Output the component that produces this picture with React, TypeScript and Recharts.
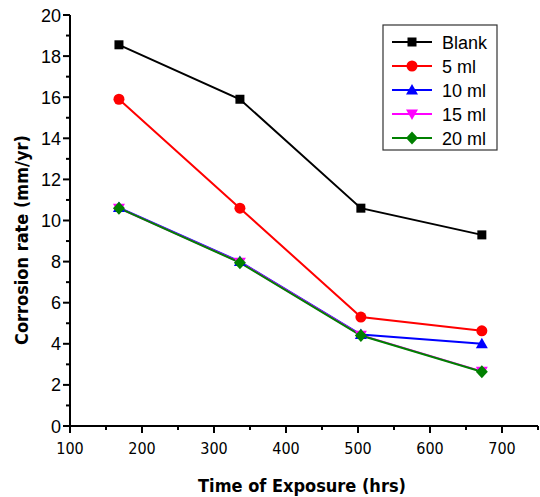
import React from 'react';
import { LineChart, Line, XAxis, YAxis } from 'recharts';

const hours = [168, 336, 504, 672];
const blank = [18.55, 15.9, 10.6, 9.3];
const ml5 = [15.9, 10.6, 5.3, 4.63];
const ml10 = [10.63, 8.0, 4.45, 4.0];
const ml15 = [10.6, 7.97, 4.42, 2.66];
const ml20 = [10.6, 7.95, 4.4, 2.64];

const xTicks = [100, 150, 200, 250, 300, 350, 400, 450, 500, 550, 600, 650, 700, 750];
const yTicks = [0, 1, 2, 3, 4, 5, 6, 7, 8, 9, 10, 11, 12, 13, 14, 15, 16, 17, 18, 19, 20];

const data = hours.map((h, i) => ({
  t: h,
  blank: blank[i],
  ml5: ml5[i],
  ml10: ml10[i],
  ml15: ml15[i],
  ml20: ml20[i],
}));

type Shape = 'square' | 'circle' | 'up' | 'down' | 'diamond';

const series: { key: string; name: string; color: string; shape: Shape }[] = [
  { key: 'blank', name: 'Blank', color: '#000000', shape: 'square' },
  { key: 'ml5', name: '5 ml', color: '#ff0000', shape: 'circle' },
  { key: 'ml10', name: '10 ml', color: '#0000ff', shape: 'up' },
  { key: 'ml15', name: '15 ml', color: '#ff00ff', shape: 'down' },
  { key: 'ml20', name: '20 ml', color: '#008000', shape: 'diamond' },
];

function Marker({ cx, cy, shape, color }: { cx: number; cy: number; shape: Shape; color: string }) {
  if (cx == null || cy == null) return <g />;
  switch (shape) {
    case 'square':
      return <rect x={cx - 4.5} y={cy - 4.5} width={9} height={9} fill={color} />;
    case 'circle':
      return <circle cx={cx} cy={cy} r={5.5} fill={color} />;
    case 'up':
      return <polygon points={`${cx},${cy - 6} ${cx - 6},${cy + 4.5} ${cx + 6},${cy + 4.5}`} fill={color} />;
    case 'down':
      return <polygon points={`${cx},${cy + 6} ${cx - 6},${cy - 4.5} ${cx + 6},${cy - 4.5}`} fill={color} />;
    case 'diamond':
      return <polygon points={`${cx},${cy - 6.5} ${cx + 6},${cy} ${cx},${cy + 6.5} ${cx - 6},${cy}`} fill={color} />;
  }
  return <g />;
}

const tickFont = "'DejaVu Sans Condensed', 'DejaVu Sans', sans-serif";
const yTickFont = "'Liberation Sans', Arial, sans-serif";
const titleFont = "'DejaVu Sans Condensed', 'DejaVu Sans', sans-serif";

const BottomTick = (props: any) => {
  const { x, y, payload } = props;
  const v = payload.value;
  const major = v % 100 === 0;
  return (
    <g>
      <line x1={x} x2={x} y1={y} y2={y + (major ? 7 : 4)} stroke="#000" strokeWidth={2} />
      {major && v <= 700 && (
        <text x={x} y={y + 28} textAnchor="middle" fontSize={16} fontFamily={tickFont} fill="#000">
          {v}
        </text>
      )}
    </g>
  );
};

const TopTick = (props: any) => {
  const { x, y, payload } = props;
  const major = payload.value % 100 === 0;
  return <line x1={x} x2={x} y1={y} y2={y + (major ? 7 : 4)} stroke="#000" strokeWidth={2} />;
};

const LeftTick = (props: any) => {
  const { x, y, payload } = props;
  const v = payload.value;
  const major = v % 2 === 0;
  return (
    <g>
      <line x1={x} x2={x - (major ? 7 : 4)} y1={y} y2={y} stroke="#000" strokeWidth={2} />
      {major && (
        <text x={x - 9} y={y + 6.5} textAnchor="end" fontSize={18} fontFamily={yTickFont} fill="#000">
          {v}
        </text>
      )}
    </g>
  );
};

const RightTick = (props: any) => {
  const { x, y, payload } = props;
  const major = payload.value % 2 === 0;
  return <line x1={x} x2={x - (major ? 7 : 4)} y1={y} y2={y} stroke="#000" strokeWidth={2} />;
};

function LegendBox() {
  const rows = series.map((s, i) => {
    const cy = 18 + i * 24;
    return (
      <g key={s.key}>
        <line x1={10} x2={50} y1={cy} y2={cy} stroke={s.color} strokeWidth={2} />
        <Marker cx={30} cy={cy} shape={s.shape} color={s.color} />
        <text x={60} y={cy + 6.5} fontSize={18} fontFamily={yTickFont} fill="#000">
          {s.name}
        </text>
      </g>
    );
  });
  return (
    <svg width={116} height={127} style={{ position: 'absolute', left: 382, top: 24 }}>
      <rect x={1} y={1} width={114} height={125} fill="#fff" stroke="#333" strokeWidth={1.2} />
      {rows}
    </svg>
  );
}

export default function App() {
  return (
    <div style={{ position: 'absolute', left: 0, top: 0, width: 540, height: 497, background: '#fff' }}>
      <LineChart width={540} height={497} data={data} margin={{ top: 15, right: 2, bottom: 0, left: 0 }}>
        <XAxis
          xAxisId="b"
          dataKey="t"
          type="number"
          domain={[100, 750]}
          ticks={xTicks}
          interval={0}
          height={71}
          tickSize={0}
          tickMargin={0}
          tickLine={false}
          axisLine={{ stroke: '#000', strokeWidth: 2 }}
          tick={<BottomTick />}
          allowDataOverflow
          label={{
            content: () => (
              <text x={302} y={492} textAnchor="middle" fontSize={18} fontWeight="bold" fontFamily={titleFont} fill="#000">
                Time of Exposure (hrs)
              </text>
            ),
          }}
        />
        <XAxis
          xAxisId="top"
          orientation="top"
          dataKey="t"
          type="number"
          domain={[100, 750]}
          ticks={xTicks}
          interval={0}
          height={0}
          tickSize={0}
          tickMargin={0}
          tickLine={false}
          axisLine={{ stroke: '#000', strokeWidth: 2 }}
          tick={<TopTick />}
          allowDataOverflow
        />
        <YAxis
          yAxisId="l"
          type="number"
          domain={[0, 20]}
          ticks={yTicks}
          interval={0}
          width={70}
          tickSize={0}
          tickMargin={0}
          tickLine={false}
          axisLine={{ stroke: '#000', strokeWidth: 2 }}
          tick={<LeftTick />}
          allowDataOverflow
          label={{
            content: () => (
              <text
                x={0}
                y={0}
                transform="translate(28 240) rotate(-90)"
                textAnchor="middle"
                fontSize={18}
                fontWeight="bold"
                fontFamily={titleFont}
                fill="#000"
              >
                Corrosion rate (mm/yr)
              </text>
            ),
          }}
        />
        <YAxis
          yAxisId="r"
          orientation="right"
          type="number"
          domain={[0, 20]}
          ticks={yTicks}
          interval={0}
          width={0}
          tickSize={0}
          tickMargin={0}
          tickLine={false}
          axisLine={{ stroke: '#000', strokeWidth: 2 }}
          tick={<RightTick />}
          allowDataOverflow
        />
        {series.map((s) => (
          <Line
            key={s.key}
            xAxisId="b"
            yAxisId="l"
            type="linear"
            dataKey={s.key}
            name={s.name}
            stroke={s.color}
            strokeWidth={2}
            isAnimationActive={false}
            dot={(p: any) => <Marker key={`${s.key}-${p.index}`} cx={p.cx} cy={p.cy} shape={s.shape} color={s.color} />}
            activeDot={false}
          />
        ))}
      </LineChart>
      <LegendBox />
    </div>
  );
}
